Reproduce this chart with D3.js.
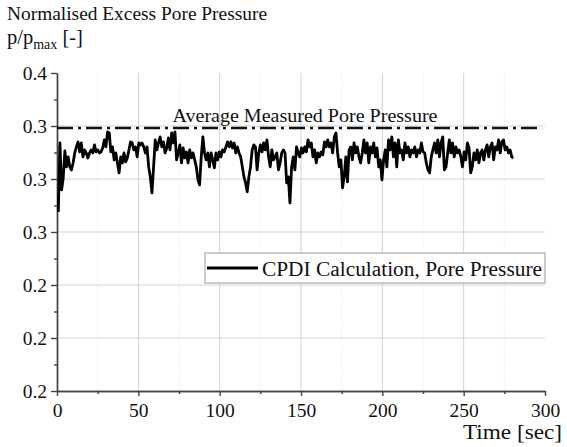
<!DOCTYPE html>
<html lang="en">
<head>
<meta charset="UTF-8">
<title>Normalised Excess Pore Pressure</title>
<script src="https://d3js.org/d3.v7.min.js"></script>
<style>
  body { margin: 0; background: #fff; }
  svg text { font-family: "Liberation Serif", "Times New Roman", serif; fill: #111; }
</style>
</head>
<body>
<div id="chart"></div>
<script>
// CPDI calculation, normalised pore pressure (sampled roughly once a second)
const pressure = [
  0.2883, 0.3338, 0.3028, 0.3107, 0.3285, 0.3180, 0.3246, 0.3180, 0.3160, 0.3206,
  0.3272, 0.3312, 0.3345, 0.3279, 0.3338, 0.3246, 0.3292, 0.3272, 0.3239, 0.3272,
  0.3292, 0.3272, 0.3325, 0.3279, 0.3292, 0.3272, 0.3279, 0.3305, 0.3358, 0.3312,
  0.3411, 0.3404, 0.3279, 0.3312, 0.3226, 0.3272, 0.3206, 0.3140, 0.3246, 0.3206,
  0.3272, 0.3213, 0.3239, 0.3292, 0.3345, 0.3338, 0.3292, 0.3312, 0.3246, 0.3338,
  0.3325, 0.3338, 0.3312, 0.3272, 0.3312, 0.3180, 0.3114, 0.3008, 0.3180, 0.3358,
  0.3292, 0.3338, 0.3378, 0.3312, 0.3345, 0.3272, 0.3305, 0.3371, 0.3292, 0.3404,
  0.3338, 0.3411, 0.3226,
  0.3272, 0.3325, 0.3206, 0.3305, 0.3239, 0.3279, 0.3206, 0.3292, 0.3239, 0.3272,
  0.3226, 0.3180, 0.3094, 0.3061, 0.3246, 0.3378, 0.3272, 0.3226, 0.3272, 0.3180,
  0.3272, 0.3226, 0.3173, 0.3272, 0.3226, 0.3279, 0.3246, 0.3292, 0.3279, 0.3312,
  0.3345, 0.3312, 0.3345, 0.3305, 0.3338, 0.3272, 0.3312, 0.3272, 0.3246, 0.3180,
  0.3114, 0.3074, 0.3015, 0.3114, 0.3180, 0.3292, 0.3325, 0.3312, 0.3160, 0.3272,
  0.3325, 0.3279, 0.3338, 0.3292, 0.3358, 0.3246, 0.3180, 0.3292, 0.3226, 0.3246,
  0.3272, 0.3160, 0.3206, 0.3272, 0.3292, 0.3272, 0.3074, 0.3114, 0.2942, 0.3180,
  0.3246, 0.3160, 0.3312, 0.3272, 0.3246,
  0.3305, 0.3272, 0.3312, 0.3279, 0.3358, 0.3312, 0.3338, 0.3246, 0.3292, 0.3206,
  0.3272, 0.3246, 0.3279, 0.3259, 0.3345, 0.3312, 0.3358, 0.3312, 0.3338, 0.3272,
  0.3378, 0.3404, 0.3272, 0.3180, 0.3226, 0.3041, 0.3114, 0.3246, 0.3081, 0.3292,
  0.3312, 0.3226, 0.3338, 0.3272, 0.3312, 0.3246, 0.3206, 0.3272, 0.3358, 0.3272,
  0.3338, 0.3206, 0.3312, 0.3272, 0.3338, 0.3246, 0.3305, 0.3180, 0.3226, 0.3094,
  0.3226, 0.3292, 0.3180, 0.3358, 0.3292, 0.3378, 0.3246, 0.3338, 0.3180, 0.3358,
  0.3272, 0.3292, 0.3226, 0.3338, 0.3272, 0.3312, 0.3246, 0.3292, 0.3272, 0.3312,
  0.3246, 0.3292, 0.3272,
  0.3338, 0.3279, 0.3272, 0.3206, 0.3160, 0.3140, 0.3246, 0.3292, 0.3338, 0.3272,
  0.3358, 0.3246, 0.3338, 0.3378, 0.3160, 0.3180, 0.3272, 0.3358, 0.3272, 0.3338,
  0.3246, 0.3312, 0.3272, 0.3292, 0.3246, 0.3180, 0.3279, 0.3226, 0.3338, 0.3305,
  0.3140, 0.3180, 0.3272, 0.3226, 0.3292, 0.3206, 0.3272, 0.3292, 0.3226, 0.3292,
  0.3325, 0.3246, 0.3312, 0.3338, 0.3226, 0.3312, 0.3292, 0.3358, 0.3272, 0.3345,
  0.3358, 0.3292, 0.3312, 0.3272, 0.3292, 0.3246, 0.3239
];
const startTime = 0.8;   // sec
const sampleStep = 1.01; // sec

// average measured pore pressure (horizontal reference)
const avgMeasured = 0.3437;
const avgSpan = [0, 297];

// axes
const xTicks = [0, 50, 100, 150, 200, 250, 300];
const xMinorTicks = [25, 75, 125, 175, 225, 275];
const yTicks = [0.17, 0.205, 0.24, 0.275, 0.31, 0.345, 0.38];
const yTickLabels = ["0.2", "0.2", "0.2", "0.3", "0.3", "0.3", "0.4"];

const serif = '"Liberation Serif", "Times New Roman", serif';

const W = 567, H = 447;
const margin = { top: 73, right: 22, bottom: 56, left: 57 };
const width = W - margin.left - margin.right;
const height = H - margin.top - margin.bottom;

const svg = d3.select("#chart").append("svg")
    .attr("width", W).attr("height", H)
    .style("font-family", serif);

const g = svg.append("g")
    .attr("transform", `translate(${margin.left},${margin.top})`);

const x = d3.scaleLinear().domain([0, 300]).range([0, width]);
const y = d3.scaleLinear().domain([0.17, 0.38]).range([height, 0]);

// grid
g.append("g").selectAll("line").data(xMinorTicks).join("line")
    .attr("x1", d => x(d)).attr("x2", d => x(d))
    .attr("y1", 0).attr("y2", height)
    .attr("stroke", "#e2e2e2").attr("stroke-dasharray", "1,2");
g.append("g").selectAll("line").data(xTicks.slice(1, -1)).join("line")
    .attr("x1", d => x(d)).attr("x2", d => x(d))
    .attr("y1", 0).attr("y2", height)
    .attr("stroke", "#d2d2d2");
g.append("g").selectAll("line").data(yTicks.slice(1, -1)).join("line")
    .attr("x1", 0).attr("x2", width)
    .attr("y1", d => y(d)).attr("y2", d => y(d))
    .attr("stroke", "#d2d2d2");

// axes
const yMinor = d3.pairs(yTicks).map(p => (p[0] + p[1]) / 2);

function styleAxis(sel) {
    sel.attr("font-family", serif);
    sel.selectAll("path, line").attr("stroke", "#444").attr("stroke-width", 1.4);
    sel.selectAll("text").attr("fill", "#111").style("font-family", serif);
}

g.append("g")
    .attr("transform", `translate(0,${height})`)
    .call(d3.axisBottom(x).tickValues(xMinorTicks).tickSize(3).tickFormat("").tickSizeOuter(0))
    .call(styleAxis);
g.append("g")
    .attr("transform", `translate(0,${height})`)
    .call(d3.axisBottom(x).tickValues(xTicks).tickSize(5).tickPadding(7).tickSizeOuter(0))
    .call(styleAxis)
    .attr("font-size", 19.5);

g.append("g")
    .call(d3.axisLeft(y).tickValues(yMinor).tickSize(3).tickFormat("").tickSizeOuter(0))
    .call(styleAxis);
g.append("g")
    .call(d3.axisLeft(y).tickValues(yTicks).tickSize(6).tickPadding(4).tickSizeOuter(0)
        .tickFormat((d, i) => yTickLabels[i]))
    .call(styleAxis)
    .attr("font-size", 19.5);

// average measured line
g.append("line")
    .attr("x1", x(avgSpan[0])).attr("x2", x(avgSpan[1]))
    .attr("y1", y(avgMeasured)).attr("y2", y(avgMeasured))
    .attr("stroke", "#111").attr("stroke-width", 2.6)
    .attr("stroke-dasharray", "16,5,3,5");
g.append("text")
    .attr("x", x(71)).attr("y", y(avgMeasured) - 6)
    .attr("font-size", 19)
    .attr("textLength", 265).attr("lengthAdjust", "spacingAndGlyphs")
    .text("Average Measured Pore Pressure");

// calculation line
const series = pressure.map((v, i) => ({ t: startTime + i * sampleStep, v: v }));
const line = d3.line().x(d => x(d.t)).y(d => y(d.v));
g.append("path").datum(series)
    .attr("d", line)
    .attr("fill", "none").attr("stroke", "#000")
    .attr("stroke-width", 2.8).attr("stroke-linejoin", "round");

// legend
const lg = svg.append("g").attr("transform", "translate(205,253)");
lg.append("rect").attr("width", 340).attr("height", 30)
    .attr("fill", "#fff").attr("stroke", "#999");
lg.append("line").attr("x1", 2).attr("x2", 53).attr("y1", 15).attr("y2", 15)
    .attr("stroke", "#000").attr("stroke-width", 3);
lg.append("text").attr("x", 57).attr("y", 23).attr("font-size", 20)
    .attr("textLength", 280).attr("lengthAdjust", "spacingAndGlyphs")
    .text("CPDI Calculation, Pore Pressure");

// titles
svg.append("text").attr("x", 7).attr("y", 20).attr("font-size", 19)
    .attr("textLength", 260).attr("lengthAdjust", "spacingAndGlyphs")
    .text("Normalised Excess Pore Pressure");
const yl = svg.append("text").attr("x", 7).attr("y", 44).attr("font-size", 20.5);
yl.append("tspan").text("p/p");
yl.append("tspan").attr("dy", 5).attr("font-size", 14).text("max");
yl.append("tspan").attr("dy", -5).text(" [-]");

svg.append("text").attr("x", 562).attr("y", 439).attr("text-anchor", "end")
    .attr("font-size", 20.5)
    .attr("textLength", 99).attr("lengthAdjust", "spacingAndGlyphs")
    .text("Time [sec]");
</script>
</body>
</html>
